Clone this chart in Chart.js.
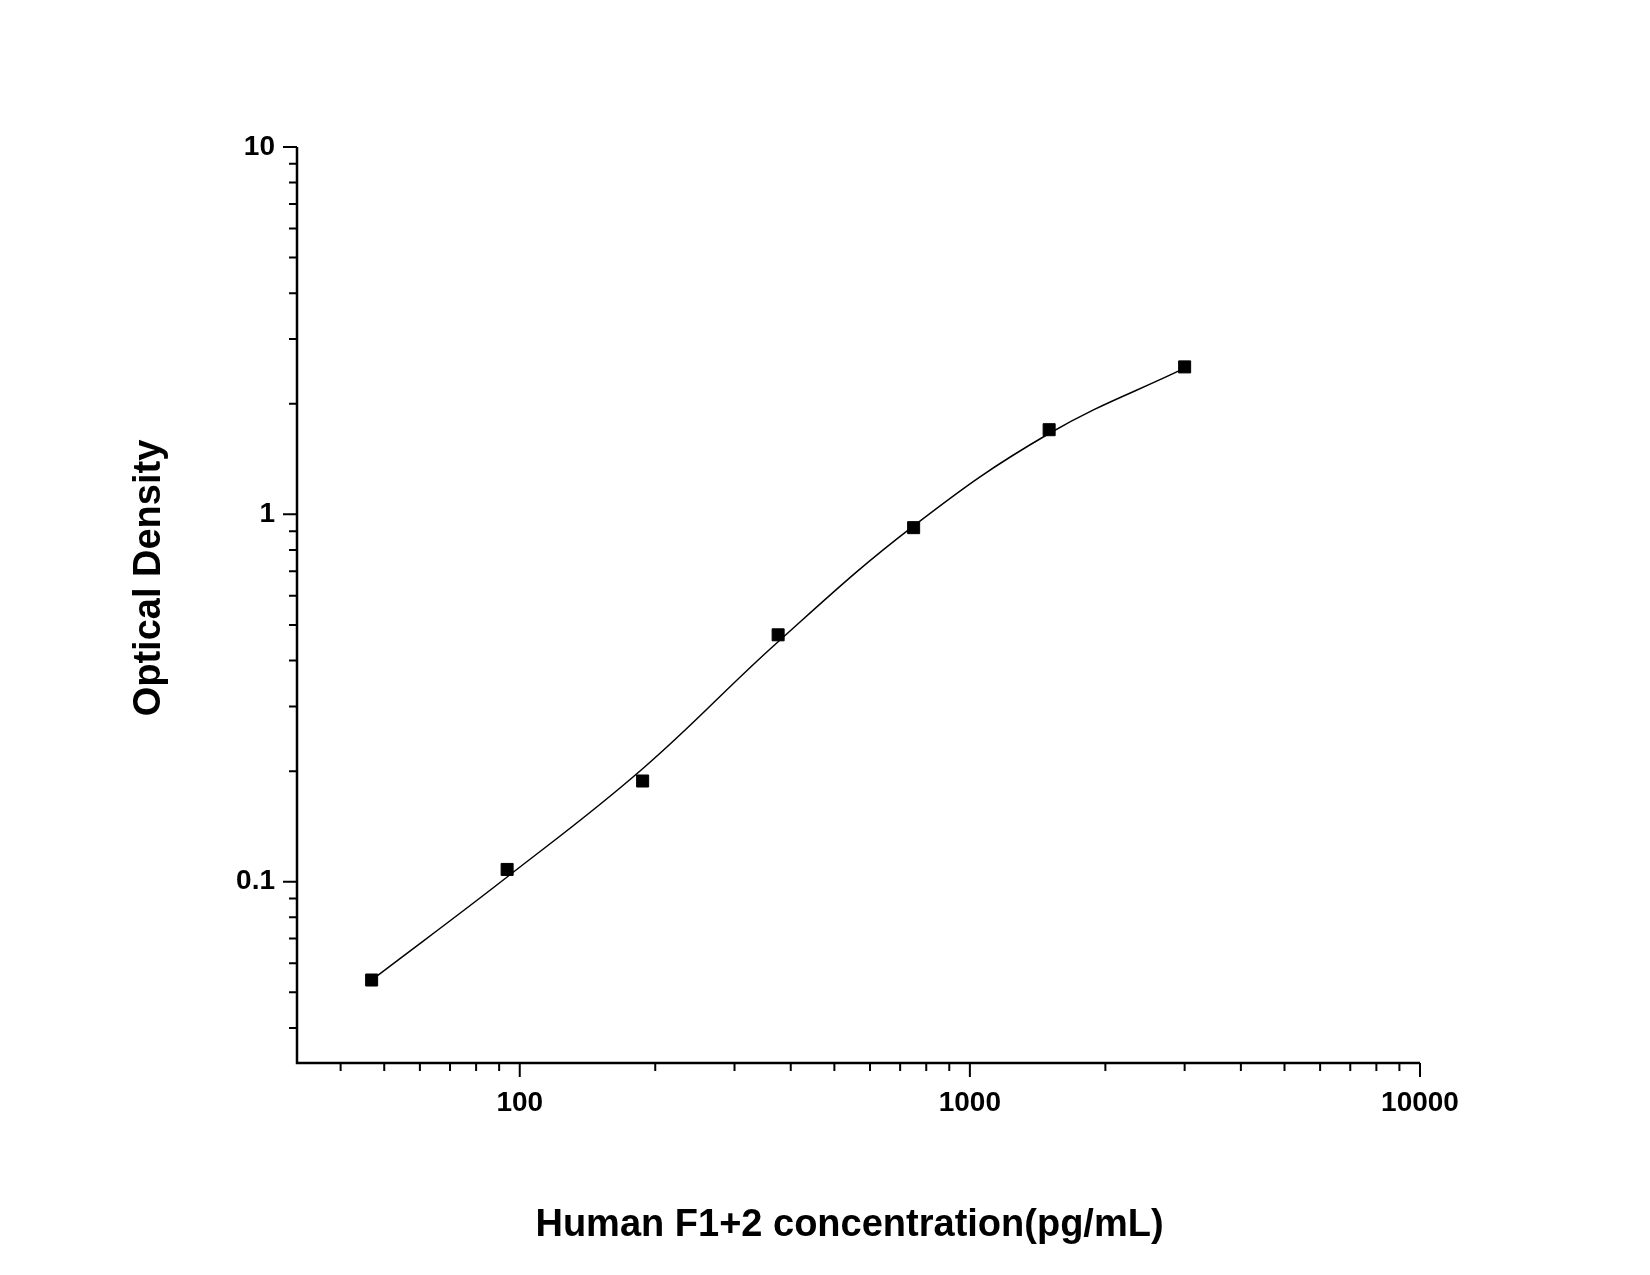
<!DOCTYPE html>
<html>
<head>
<meta charset="utf-8">
<script src="https://cdn.jsdelivr.net/npm/chart.js@4"></script>
<style>
  body { margin: 0; background: #fff; }
  #wrap { width: 1650px; height: 1275px; }
</style>
</head>
<body>
<div id="wrap"><canvas id="chart"></canvas></div>
<script>
const concentrations = [46.875, 93.75, 187.5, 375, 750, 1500, 3000];
const densities = [0.054, 0.108, 0.188, 0.47, 0.92, 1.70, 2.52];

// fitted curve
const curveX = [46.875, 93.75, 187.5, 375, 750, 1500, 3000];
const curveY = [0.054, 0.103, 0.203, 0.45, 0.93, 1.66, 2.5];

const xMajor = [100, 1000, 10000];
const xMinor = [40, 50, 60, 70, 80, 90, 200, 300, 400, 500, 600, 700, 800, 900,
                2000, 3000, 4000, 5000, 6000, 7000, 8000, 9000];
const yMajor = [0.1, 1, 10];
const yMinor = [0.04, 0.05, 0.06, 0.07, 0.08, 0.09, 0.2, 0.3, 0.4, 0.5, 0.6, 0.7, 0.8, 0.9,
                2, 3, 4, 5, 6, 7, 8, 9];

const xTitle = "Human F1+2 concentration(pg/mL)";
const yTitle = "Optical Density";

const points = concentrations.map((c, i) => ({ x: c, y: densities[i] }));
const curve = curveX.map((c, i) => ({ x: c, y: curveY[i] }));

// axes drawn by hand so they look like the Origin plot
const axesPlugin = {
    id: "axes",
    afterDraw(chart) {
        const ctx = chart.ctx;
        const a = chart.chartArea;
        const xs = chart.scales.x, ys = chart.scales.y;
        ctx.save();
        ctx.strokeStyle = "#000";
        ctx.fillStyle = "#000";
        ctx.lineWidth = 2.5;
        ctx.beginPath();
        ctx.moveTo(a.left, a.top);
        ctx.lineTo(a.left, a.bottom);
        ctx.lineTo(a.right, a.bottom);
        ctx.stroke();

        ctx.lineWidth = 2;
        ctx.beginPath();
        xMajor.forEach(v => { const p = xs.getPixelForValue(v); ctx.moveTo(p, a.bottom); ctx.lineTo(p, a.bottom + 14); });
        xMinor.forEach(v => { const p = xs.getPixelForValue(v); ctx.moveTo(p, a.bottom); ctx.lineTo(p, a.bottom + 8); });
        yMajor.forEach(v => { const p = ys.getPixelForValue(v); ctx.moveTo(a.left, p); ctx.lineTo(a.left - 14, p); });
        yMinor.forEach(v => { const p = ys.getPixelForValue(v); ctx.moveTo(a.left, p); ctx.lineTo(a.left - 8, p); });
        ctx.stroke();

        ctx.font = "bold 28px 'Liberation Sans', Arial";
        ctx.textAlign = "center";
        ctx.textBaseline = "top";
        xMajor.forEach(v => ctx.fillText(String(v), xs.getPixelForValue(v), a.bottom + 26));
        ctx.textAlign = "right";
        ctx.textBaseline = "middle";
        yMajor.forEach(v => ctx.fillText(String(v), a.left - 22, ys.getPixelForValue(v)));

        ctx.font = "bold 38px 'Liberation Sans', Arial";
        ctx.textAlign = "center";
        ctx.fillText(xTitle, (a.left + a.right) / 2 - 9, 1226);
        ctx.translate(150, (a.top + a.bottom) / 2 - 27);
        ctx.rotate(-Math.PI / 2);
        ctx.fillText(yTitle, 0, 0);
        ctx.restore();
    }
};

new Chart(document.getElementById("chart"), {
    type: "scatter",
    data: {
        datasets: [
            {
                data: curve,
                showLine: true,
                tension: 0.4,
                borderColor: "#000",
                borderWidth: 1.5,
                pointRadius: 0
            },
            {
                data: points,
                pointStyle: "rect",
                pointRadius: 8.5,
                backgroundColor: "#000",
                borderColor: "#000"
            }
        ]
    },
    options: {
        responsive: true,
        maintainAspectRatio: false,
        animation: false,
        layout: { padding: { left: 297, top: 147, right: 230, bottom: 212 } },
        plugins: { legend: { display: false }, tooltip: { enabled: false } },
        scales: {
            x: { type: "logarithmic", min: 32, max: 10000, display: false },
            y: { type: "logarithmic", min: 0.0321, max: 10, display: false }
        }
    },
    plugins: [axesPlugin]
});
</script>
</body>
</html>
